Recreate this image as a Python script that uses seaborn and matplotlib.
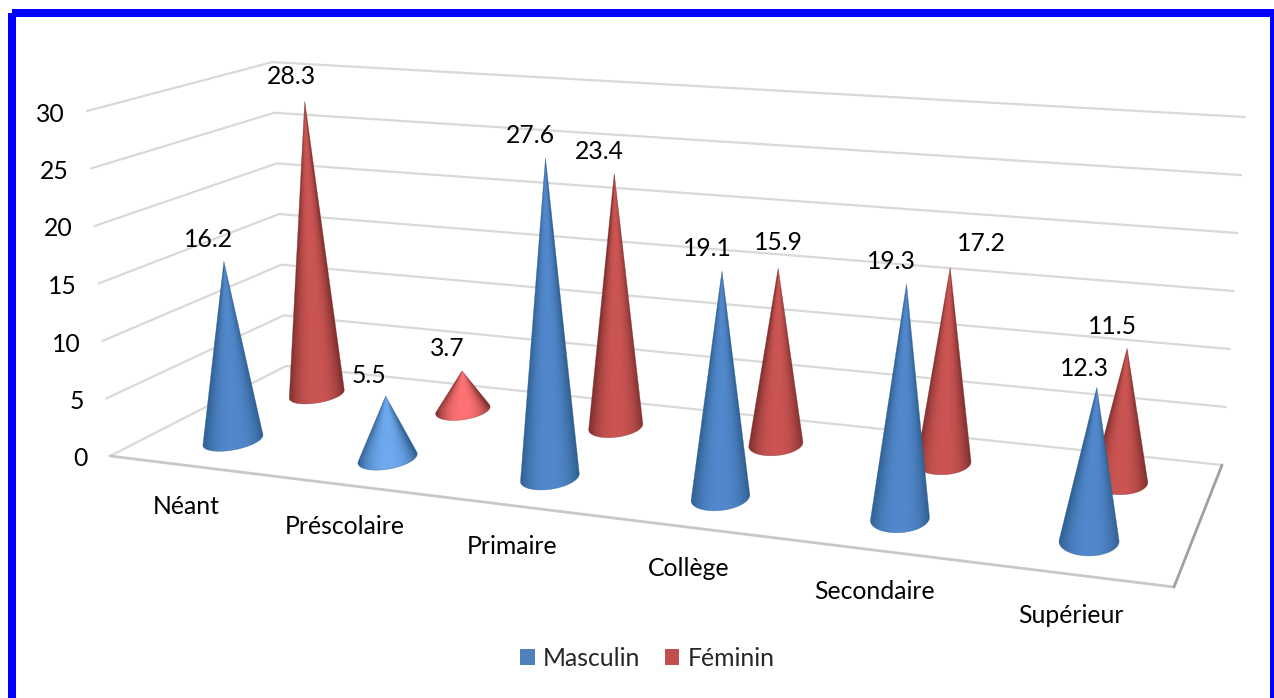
import numpy as np
import pandas as pd
import matplotlib
matplotlib.use("Agg")
import matplotlib.pyplot as plt
from matplotlib.patches import Patch, Polygon, Rectangle
import seaborn as sns

# Values
categories = ["Néant", "Préscolaire", "Primaire", "Collège", "Secondaire", "Supérieur"]
masculin = [16.2, 5.5, 27.6, 19.1, 19.3, 12.3]
feminin = [28.3, 3.7, 23.4, 15.9, 17.2, 11.5]
ticks = [0, 5, 10, 15, 20, 25, 30]
series_names = ["Masculin", "Féminin"]

sns.set_theme(style="white")
plt.rcParams["font.family"] = ["Lato", "DejaVu Sans"]
FS = 17.8

# Fake 3D scene in pixels: floor corners (front-left, front-right, back-right, back-left)
floor_px = [(110, 456), (1174, 587), (1222, 465), (286, 366)]
# pixels per unit at three floor corners, and where the verticals converge
wall_scale = [(110, 456, 11.5), (286, 366, 10.13), (1222, 465, 11.6)]
VANISH = (669, 8834)
DEPTH = {"Masculin": 0.25, "Féminin": 0.75}
RU, RW = 0.025, 0.11
TIP = 0.98  # cone tips fade out a little below their true height


def homography(corners):
    src = [(0, 0), (1, 0), (1, 1), (0, 1)]
    A, b = [], []
    for (u, w), (x, y) in zip(src, corners):
        A.append([u, w, 1, 0, 0, 0, -u * x, -w * x])
        A.append([0, 0, 0, u, w, 1, -u * y, -w * y])
        b += [x, y]
    return np.append(np.linalg.solve(np.array(A, float), np.array(b, float)), 1).reshape(3, 3)


H_floor = homography(floor_px)
scale_coef = np.linalg.solve(np.array([[x, y, 1] for x, y, _ in wall_scale], float),
                             np.array([s for _, _, s in wall_scale], float))


def project(u, w, z=0.0):
    u = np.atleast_1d(np.asarray(u, float))
    w = np.atleast_1d(np.asarray(w, float))
    u, w = np.broadcast_arrays(u, w)
    a = H_floor @ np.stack([u, w, np.ones_like(u)])
    x, y = a[0] / a[2], a[1] / a[2]
    s = scale_coef[0] * x + scale_coef[1] * y + scale_coef[2]
    lift = s * z
    return x + (x - VANISH[0]) / (VANISH[1] - y) * lift, y - lift


rows = []
for name, vals in zip(series_names, [masculin, feminin]):
    for i, v in enumerate(vals):
        rows.append({"serie": name, "cat": categories[i], "i": i, "val": v})
df = pd.DataFrame(rows)

fig, ax = plt.subplots(figsize=(12.74, 6.98), dpi=100)
fig.subplots_adjust(0, 0, 1, 1)
ax.set_axis_off()

# Gridlines on the two back walls
grid = []
for t in ticks:
    for u, w in [(0, 0), (0, 1), (1, 1)]:
        x, y = project(u, w, t)
        grid.append({"tick": t, "x": x[0], "y": y[0]})
grid = pd.DataFrame(grid)
sns.lineplot(data=grid, x="x", y="y", units="tick", estimator=None, sort=False,
             color="#d9d9d9", lw=1.6, ax=ax, legend=False, zorder=1)

# Floor edges
x, y = project([0.0, 1.0], [0.0, 0.0])
ax.plot(x, y, color="#c8c8c8", lw=2, zorder=2, solid_capstyle="round")
x, y = project([1.0, 1.0], [0.0, 1.0])
ax.plot(x, y, color="#a0a0a0", lw=2, zorder=2, solid_capstyle="round")

shades = {"Masculin": ("#2f5f90", "#5288cc", "#78b4fa"),
          "Féminin": ("#7e2f2d", "#cb5553", "#ff7274")}


def draw_cone(u, w, val, name, zo):
    dark, mid, bright = [np.array(matplotlib.colors.to_rgb(c)) for c in shades[name]]
    t = np.linspace(0, 2 * np.pi, 181)[:-1]
    ex, ey = project(u + RU * np.cos(t), w + RW * np.sin(t))
    cx, cy = project(u, w)
    apx, apy = project(u, w, val * TIP)
    cx, cy, apx, apy = cx[0], cy[0], apx[0], apy[0]

    # outline: apex plus the lower part of the base between the two tangents
    ang = np.arctan2(ex - apx, ey - apy)
    i0, i1 = sorted([int(np.argmin(ang)), int(np.argmax(ang))])
    arc_a = np.arange(i0, i1 + 1)
    arc_b = np.r_[np.arange(i1, len(t)), np.arange(0, i0 + 1)]
    arc = arc_a if ey[arc_a].mean() > ey[arc_b].mean() else arc_b
    poly = np.vstack([[apx, apy], np.column_stack([ex[arc], ey[arc]])])

    height = cy - apy
    half = (ex.max() - ex.min()) / 2
    x0 = min(ex.min(), apx) - 2
    x1 = max(ex.max(), apx) + 2
    y0, y1 = apy - 2, ey.max() + 2
    gx, gy = np.meshgrid(np.linspace(x0, x1, 200), np.linspace(y0, y1, 440))
    frac = np.clip((gy - apy) / height, 0.02, 1)
    s = np.clip((gx - (apx + (cx - apx) * frac)) / (half * frac), -1, 1)
    light = 1 - np.abs(s) ** 2.4
    top = mid + (bright - mid) * np.clip(1.45 - height / 90, 0, 1)
    img = dark + (top - dark) * light[..., None]
    ax.add_patch(Polygon(poly, closed=True, fc="none", ec=dark, lw=0.4, alpha=0.6, zorder=zo + 0.1))
    im = ax.imshow(img, extent=(x0, x1, y1, y0), interpolation="bilinear", aspect="auto", zorder=zo)
    im.set_clip_path(Polygon(poly, closed=True, transform=ax.transData))
    return apx, apy


label_nudge = {28.3: (-13, -25), 15.9: (0, -26), 17.2: (31, -24), 12.3: (-12, -19), 5.5: (-17, -21)}

order = df.sort_values(["serie", "i"])  # Féminin first, it sits behind
zo = 3
for _, r in order.iterrows():
    u = (r["i"] + 0.5) / len(categories)
    px, py = draw_cone(u, DEPTH[r["serie"]], r["val"], r["serie"], zo)
    zo += 1
    dx, dy = label_nudge.get(r["val"], (-15, -22))
    ax.text(px + dx, py + dy, f"{r['val']:.1f}", ha="center", va="center", fontsize=FS, color="black", zorder=50)

# Value axis labels
for t in ticks:
    x, y = project(0.0, 0.0, t)
    ax.text(x[0] - 22, y[0] + 3, str(t), ha="right", va="center", fontsize=FS, color="black")

# Category labels
for i, c in enumerate(categories):
    x, y = project((i + 0.5) / len(categories), 0.0)
    ax.text(x[0] - 1, y[0] + 41, c, ha="center", va="center", fontsize=FS, color="black")

# Legend
palette = sns.color_palette(["#4f81bd", "#c0504d"])
handles = [Patch(fc=palette[k], lw=0, label=series_names[k]) for k in range(2)]
ax.legend(handles=handles, loc="center", bbox_to_anchor=(647.5 / 1274, 1 - 658.5 / 698), ncol=2, frameon=False,
          fontsize=FS, handlelength=0.58, handleheight=0.61, handletextpad=0.34, columnspacing=1.0,
          borderpad=0, borderaxespad=0)

ax.set_xlim(0, 1274)
ax.set_ylim(698, 0)
ax.set_xlabel("")
ax.set_ylabel("")

# Blue frame round the picture
ax.add_patch(Rectangle((12, 13), 1262, 700, fc="none", ec="#0000ff", lw=5.76, zorder=60))

fig.savefig("out.png", dpi=100)
